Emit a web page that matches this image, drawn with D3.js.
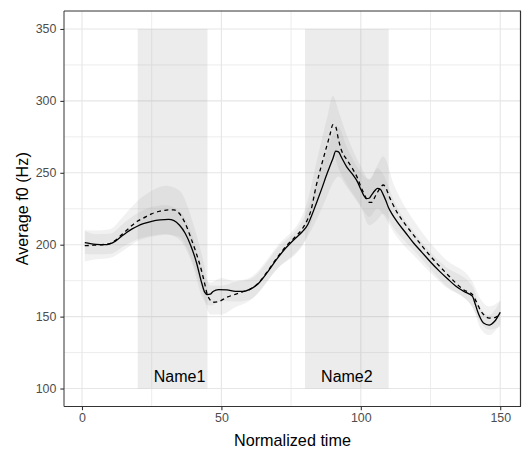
<!DOCTYPE html>
<html><head><meta charset="utf-8">
<script src="https://cdn.jsdelivr.net/npm/d3@7"></script>
<style>
html,body{margin:0;padding:0;background:#fff;}
svg{display:block;font-family:"Liberation Sans",Arial,sans-serif;}
</style></head>
<body>
<svg id="chart" width="523" height="449"></svg>
<script>
// ---- data ----
const xs = [1,3,5,8,10,12,14,16,18,20,22,25,28,31,33,35,37,39,41,43,44,45,46,47,49,52,55,58,60,63,66,70,73,76,79,81,82,84,86,88,89,90,91,92,93,95,97,99,100,101,102,103,104,105,106,107,108,109,110,111,113,116,119,122,125,128,131,134,137,140,141,142,143,144,146,148,150];
const solidF0 = [201.5,200.8,200.3,200.0,200.6,202.5,205.5,208.5,211,213,214.6,216.2,217.2,217.6,216.8,213.5,208,199.5,188,173,167,165.3,165.6,167.5,168.8,168.6,167.5,167.5,168.8,172.5,179.5,190.3,197.5,203.5,209,214,218.5,228.5,239,250,255,260,265,264.5,261,254,249,243,238.5,234.5,232,232.3,235,237.5,239.2,238.5,235,230.5,225.5,222,216,208.5,201,194.5,188,182,176.5,171.3,167.5,164.2,159,153,148.5,145.5,144.1,146.8,153];
const dashedF0 = [199.3,199.5,199.8,200.2,200.8,203,206.5,210,213.5,216.5,218.5,221.5,223.3,224.2,224.2,221.5,215,205,194,181,173,165,161.5,160,160.5,163.5,165.5,167.5,168.8,172.8,180,191,198.5,204.5,211,218,223,241,256,270,277,283.5,282,273,266,259,253,245.5,240.5,236,232,229.5,229.5,233,236.5,239.5,241.5,239.5,234.5,230,222.5,214,206.5,199,192,185.5,179.5,173.5,168.5,165.4,162,158,154,151.5,149,149.3,152];

const ribbonX   = [1,5,10,15,20,25,30,35,40,43,46,50,55,60,70,80,85,88,90,92,95,100,103,106,108,112,120,130,140,143,146,150];
const solidLo   = [193.5,193.3,193.6,199,204,206.2,207.5,203.5,184,164,157.6,160.8,160.5,161.8,183.3,202.5,221,234,243,247.5,240,226.5,219.3,225.2,221,208,190.5,171.3,157.2,141.5,137.1,145];
const solidHi   = [209.5,207.3,207.6,215,222,226.2,227.5,223.5,204,182,173.6,176.8,174.5,175.8,197.3,220.5,247,266,277,281.5,268,250.5,245.3,253.2,249,230,206.5,185.3,171.2,155.5,151.1,161];
const dashedLo  = [188.3,189.8,190.8,196.2,202.5,205.5,207,205.5,186,169,151.5,151.5,156.5,160.8,183,203,233,251,263.5,253,242,226.5,213.5,217.5,221.5,211,194,172.5,156.4,146,141,143];
const dashedHi  = [210.3,209.8,210.8,220.2,230.5,237.5,241,237.5,214,193,171.5,171.5,174.5,176.8,199,225,265,289,303.5,293,276,254.5,245.5,255.5,261.5,241,214,190.5,174.4,162,157,161];

const regionNames = ["Name1","Name2"];
const regionStart = [20,80];
const regionEnd   = [45,110];
const regionLabelX = [35,95];
const regionBottom = 100, regionTop = 350, labelY = 108.5;

const xTicks = [0,50,100,150];
const xMinor = [25,75,125];
const yTicks = [100,150,200,250,300,350];
const yMinor = [125,175,225,275,325];
const xTitle = "Normalized time";
const yTitle = "Average f0 (Hz)";

// ---- layout ----
const L = 64, R = 521, T = 11, B = 406.5;
const svg = d3.select("#chart");
const x = d3.scaleLinear().domain([-6.45,157.45]).range([L,R]);
const y = d3.scaleLinear().domain([87.5,362.5]).range([B,T]);

// grid
const g = svg.append("g");
g.selectAll(".ym").data(yMinor).join("line")
  .attr("x1",L).attr("x2",R).attr("y1",d=>y(d)).attr("y2",d=>y(d))
  .attr("stroke","#ebebeb").attr("stroke-width",0.9);
g.selectAll(".xm").data(xMinor).join("line")
  .attr("y1",T).attr("y2",B).attr("x1",d=>x(d)).attr("x2",d=>x(d))
  .attr("stroke","#ebebeb").attr("stroke-width",0.9);
g.selectAll(".yM").data(yTicks).join("line")
  .attr("x1",L).attr("x2",R).attr("y1",d=>y(d)).attr("y2",d=>y(d))
  .attr("stroke","#e6e6e6").attr("stroke-width",1.1);
g.selectAll(".xM").data(xTicks).join("line")
  .attr("y1",T).attr("y2",B).attr("x1",d=>x(d)).attr("x2",d=>x(d))
  .attr("stroke","#e6e6e6").attr("stroke-width",1.1);

// region rects
svg.append("g").selectAll("rect").data(regionNames).join("rect")
  .attr("x",(d,i)=>x(regionStart[i]))
  .attr("width",(d,i)=>x(regionEnd[i])-x(regionStart[i]))
  .attr("y",y(regionTop)).attr("height",y(regionBottom)-y(regionTop))
  .attr("fill","#999").attr("fill-opacity",0.19);

// ribbons
const area = (lo,hi) => d3.area()
  .x((d,i)=>x(ribbonX[i])).y0((d,i)=>y(lo[i])).y1((d,i)=>y(hi[i]))
  .curve(d3.curveMonotoneX)(ribbonX);
svg.append("path").attr("d",area(dashedLo,dashedHi)).attr("fill","#999").attr("fill-opacity",0.14);
svg.append("path").attr("d",area(solidLo,solidHi)).attr("fill","#999").attr("fill-opacity",0.14);

// lines
const line = vals => d3.line().x((d,i)=>x(xs[i])).y((d,i)=>y(vals[i])).curve(d3.curveMonotoneX)(xs);
svg.append("path").attr("d",line(solidF0)).attr("fill","none").attr("stroke","#000").attr("stroke-width",1.3);
svg.append("path").attr("d",line(dashedF0)).attr("fill","none").attr("stroke","#000").attr("stroke-width",1.3)
  .attr("stroke-dasharray","4,3.5");

// region labels
svg.append("g").selectAll("text").data(regionNames).join("text")
  .attr("x",(d,i)=>x(regionLabelX[i])).attr("y",y(labelY)+5.5)
  .attr("text-anchor","middle").attr("font-size",16).attr("fill","#000").text(d=>d);

// panel border
svg.append("line").attr("x1",L).attr("x2",R).attr("y1",T).attr("y2",T).attr("stroke","#333").attr("stroke-width",1);
svg.append("line").attr("x1",L).attr("x2",L).attr("y1",T).attr("y2",B).attr("stroke","#333").attr("stroke-width",1);
svg.append("line").attr("x1",R-0.5).attr("x2",R-0.5).attr("y1",T).attr("y2",B).attr("stroke","#333").attr("stroke-width",1.2);
svg.append("line").attr("x1",L).attr("x2",R).attr("y1",B).attr("y2",B).attr("stroke","#333").attr("stroke-width",1.2);

// axes
const xAxis = d3.axisBottom(x).tickValues(xTicks).tickSize(3.7).tickPadding(3).tickFormat(d3.format("d"));
const yAxis = d3.axisLeft(y).tickValues(yTicks).tickSize(3.7).tickPadding(4).tickFormat(d3.format("d"));
const gx = svg.append("g").attr("transform",`translate(0,${B})`).call(xAxis);
const gy = svg.append("g").attr("transform",`translate(${L},0)`).call(yAxis);
[gx,gy].forEach(a=>{
  a.select(".domain").remove();
  a.selectAll(".tick line").attr("stroke","#333").attr("stroke-width",1.1);
  a.selectAll(".tick text").attr("fill","#4d4d4d").attr("font-size",12.4)
   .attr("font-family","'Liberation Sans',Arial,sans-serif");
});

// titles
svg.append("text").attr("x",(L+R)/2).attr("y",446).attr("text-anchor","middle")
  .attr("font-size",16.2).attr("fill","#000").text(xTitle);
svg.append("text").attr("transform",`translate(27.5,${(T+B)/2}) rotate(-90)`)
  .attr("text-anchor","middle").attr("font-size",16.2).attr("fill","#000").text(yTitle);
</script>
</body></html>
